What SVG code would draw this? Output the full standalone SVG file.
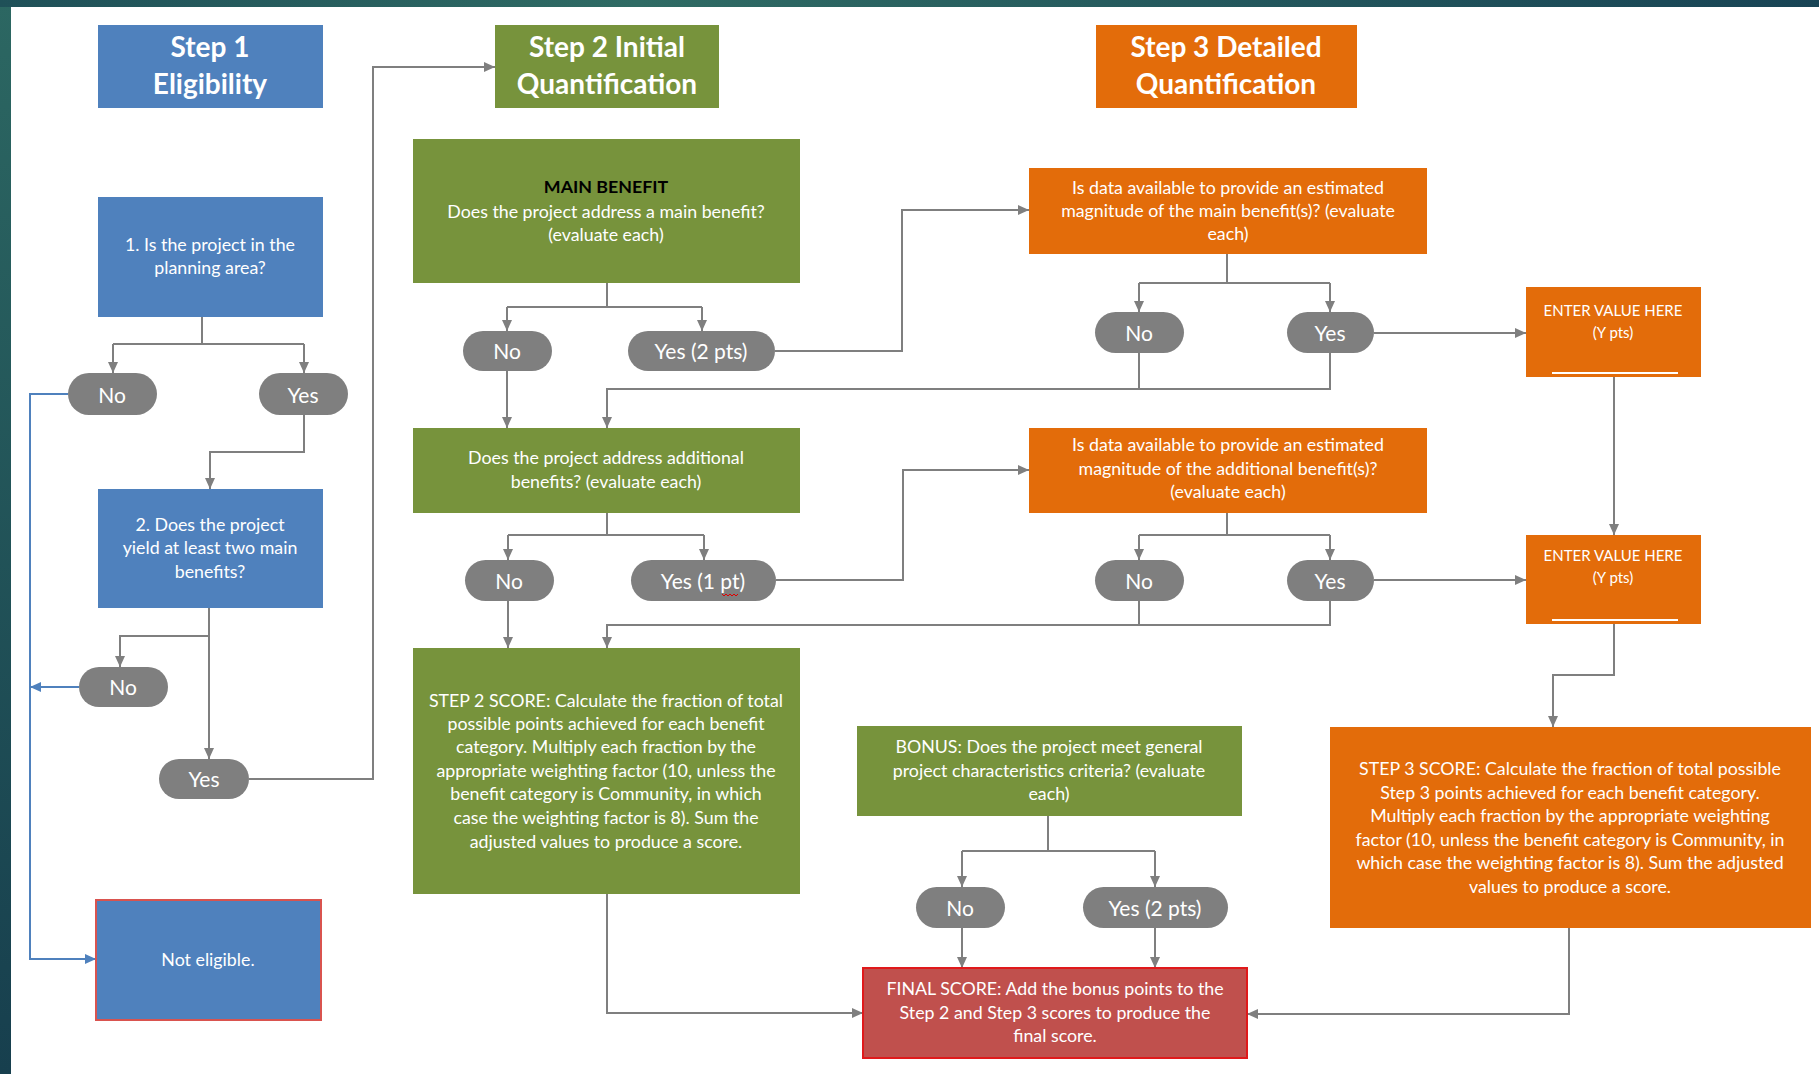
<svg xmlns="http://www.w3.org/2000/svg" width="1819" height="1074" viewBox="0 0 1819 1074">
<defs>
<linearGradient id="gTop" x1="0" y1="0" x2="1" y2="0">
<stop offset="0" stop-color="#1f5058"/><stop offset="0.35" stop-color="#2f6b64"/><stop offset="1" stop-color="#184455"/>
</linearGradient>
<linearGradient id="gLeft" x1="0" y1="0" x2="0" y2="1">
<stop offset="0" stop-color="#2c6762"/><stop offset="1" stop-color="#173f4e"/>
</linearGradient>
<marker id="ag" markerUnits="userSpaceOnUse" markerWidth="11" markerHeight="10" refX="11" refY="5" orient="auto">
<path d="M0,0 L11,5 L0,10 z" fill="#7f7f7f"/>
</marker>
<marker id="ab" markerUnits="userSpaceOnUse" markerWidth="11" markerHeight="10" refX="11" refY="5" orient="auto">
<path d="M0,0 L11,5 L0,10 z" fill="#4f81bd"/>
</marker>
</defs>
<style>
.blue{fill:#4f81bd}
.green{fill:#77933c}
.orange{fill:#e36c0a}
.pill{fill:#7f7f7f}
.t{font-family:Lato,"Liberation Sans",sans-serif;fill:#ffffff;text-anchor:middle}
.title{font-size:28px;font-weight:bold}
.body{font-size:17.8px}
.small{font-size:15px}
.pt{font-size:21px}
.c{fill:none;stroke:#7f7f7f;stroke-width:2}
.cb{fill:none;stroke:#4f81bd;stroke-width:2}
</style>
<rect x="0" y="0" width="1819" height="1074" fill="#ffffff"/>
<rect x="0" y="0" width="11" height="1074" fill="url(#gLeft)"/>
<rect x="0" y="0" width="1819" height="7" fill="url(#gTop)"/>

<g id="connectors">
<path class="c" d="M202,317 V344 M113,344 H304"/>
<path class="c" d="M113,344 V373" marker-end="url(#ag)"/>
<path class="c" d="M304,344 V373" marker-end="url(#ag)"/>
<path class="c" d="M304,415 V452 H210 V489" marker-end="url(#ag)"/>
<path class="c" d="M209,608 V759" marker-end="url(#ag)"/>
<path class="c" d="M209,636 H120 V667" marker-end="url(#ag)"/>
<path class="c" d="M249,779 H373 V67 H495" marker-end="url(#ag)"/>
<path class="cb" d="M68,394 H30 V959 H96" marker-end="url(#ab)"/>
<path class="cb" d="M79,687 H30" marker-end="url(#ab)"/>

<path class="c" d="M607,283 V307 M507,307 H702"/>
<path class="c" d="M507,307 V331" marker-end="url(#ag)"/>
<path class="c" d="M702,307 V331" marker-end="url(#ag)"/>
<path class="c" d="M507,371 V428" marker-end="url(#ag)"/>
<path class="c" d="M775,351 H902 V210 H1029" marker-end="url(#ag)"/>
<path class="c" d="M1227,254 V283 M1139,283 H1330"/>
<path class="c" d="M1139,283 V312" marker-end="url(#ag)"/>
<path class="c" d="M1330,283 V312" marker-end="url(#ag)"/>
<path class="c" d="M1374,333 H1526" marker-end="url(#ag)"/>
<path class="c" d="M1139,353 V389 M1330,353 V389 H607 V428" marker-end="url(#ag)"/>
<path class="c" d="M1614,377 V535" marker-end="url(#ag)"/>

<path class="c" d="M607,513 V535 M508,535 H704"/>
<path class="c" d="M508,535 V560" marker-end="url(#ag)"/>
<path class="c" d="M704,535 V560" marker-end="url(#ag)"/>
<path class="c" d="M508,601 V648" marker-end="url(#ag)"/>
<path class="c" d="M776,580 H903 V470 H1029" marker-end="url(#ag)"/>
<path class="c" d="M1227,513 V535 M1139,535 H1330"/>
<path class="c" d="M1139,535 V560" marker-end="url(#ag)"/>
<path class="c" d="M1330,535 V560" marker-end="url(#ag)"/>
<path class="c" d="M1374,580 H1526" marker-end="url(#ag)"/>
<path class="c" d="M1139,601 V625 M1330,601 V625 H607 V648" marker-end="url(#ag)"/>
<path class="c" d="M1614,624 V675 H1553 V727" marker-end="url(#ag)"/>

<path class="c" d="M607,894 V1013 H863" marker-end="url(#ag)"/>
<path class="c" d="M1569,928 V1014 H1247" marker-end="url(#ag)"/>
<path class="c" d="M1048,816 V851 M962,851 H1155"/>
<path class="c" d="M962,851 V887" marker-end="url(#ag)"/>
<path class="c" d="M1155,851 V887" marker-end="url(#ag)"/>
<path class="c" d="M962,928 V968" marker-end="url(#ag)"/>
<path class="c" d="M1155,928 V968" marker-end="url(#ag)"/>
</g>

<g id="step1-title"><rect class="blue" x="98" y="25" width="225" height="83"/>
<text class="t title" x="210" y="57">Step 1</text><text class="t title" x="210" y="94">Eligibility</text></g>
<g id="step2-title"><rect class="green" x="495" y="25" width="224" height="83"/>
<text class="t title" x="607" y="57">Step 2 Initial</text><text class="t title" x="607" y="94">Quantification</text></g>
<g id="step3-title"><rect class="orange" x="1096" y="25" width="261" height="83"/>
<text class="t title" x="1226" y="57">Step 3 Detailed</text><text class="t title" x="1226" y="94">Quantification</text></g>

<g id="q1"><rect class="blue" x="98" y="197" width="225" height="120"/>
<text class="t body" x="210" y="251">1. Is the project in the</text><text class="t body" x="210" y="274">planning area?</text></g>
<g id="q1-no"><rect class="pill" x="68" y="373" width="89" height="42" rx="21"/><text class="t pt" x="112" y="403">No</text></g>
<g id="q1-yes"><rect class="pill" x="259" y="373" width="89" height="42" rx="21"/><text class="t pt" x="303" y="403">Yes</text></g>
<g id="q2"><rect class="blue" x="98" y="489" width="225" height="119"/>
<text class="t body" x="210" y="531">2. Does the project</text><text class="t body" x="210" y="554">yield at least two main</text><text class="t body" x="210" y="578">benefits?</text></g>
<g id="q2-no"><rect class="pill" x="79" y="667" width="89" height="40" rx="20"/><text class="t pt" x="123" y="695">No</text></g>
<g id="q2-yes"><rect class="pill" x="159" y="759" width="90" height="40" rx="20"/><text class="t pt" x="204" y="787">Yes</text></g>
<g id="not-eligible"><rect class="blue" x="96" y="900" width="225" height="120" stroke="#d9534f" stroke-width="2"/>
<text class="t body" x="208" y="966">Not eligible.</text></g>

<g id="main-benefit"><rect class="green" x="413" y="139" width="387" height="144"/>
<text class="t body" x="606" y="193" style="fill:#000000;font-weight:bold">MAIN BENEFIT</text>
<text class="t body" x="606" y="218">Does the project address a main benefit?</text>
<text class="t body" x="606" y="241">(evaluate each)</text></g>
<g id="mb-no"><rect class="pill" x="463" y="331" width="89" height="40" rx="20"/><text class="t pt" x="507" y="359">No</text></g>
<g id="mb-yes"><rect class="pill" x="628" y="331" width="147" height="40" rx="20"/><text class="t pt" x="701" y="359">Yes (2 pts)</text></g>
<g id="additional"><rect class="green" x="413" y="428" width="387" height="85"/>
<text class="t body" x="606" y="464">Does the project address additional</text>
<text class="t body" x="606" y="488">benefits? (evaluate each)</text></g>
<g id="ad-no"><rect class="pill" x="465" y="560" width="89" height="41" rx="20.5"/><text class="t pt" x="509" y="589">No</text></g>
<g id="ad-yes"><rect class="pill" x="631" y="560" width="145" height="41" rx="20.5"/><text class="t pt" x="703" y="589">Yes (1 pt)</text>
<path d="M722,594 l2,2 l2,-2 l2,2 l2,-2 l2,2 l2,-2 l2,2 l2,-2" fill="none" stroke="#e00000" stroke-width="1"/></g>
<g id="step2-score"><rect class="green" x="413" y="648" width="387" height="246"/>
<text class="t body" x="606" y="707">STEP 2 SCORE: Calculate the fraction of total</text>
<text class="t body" x="606" y="730">possible points achieved for each benefit</text>
<text class="t body" x="606" y="753">category. Multiply each fraction by the</text>
<text class="t body" x="606" y="777">appropriate weighting factor (10, unless the</text>
<text class="t body" x="606" y="800">benefit category is Community, in which</text>
<text class="t body" x="606" y="824">case the weighting factor is 8). Sum the</text>
<text class="t body" x="606" y="848">adjusted values to produce a score.</text></g>

<g id="data-main"><rect class="orange" x="1029" y="168" width="398" height="86"/>
<text class="t body" x="1228" y="194">Is data available to provide an estimated</text>
<text class="t body" x="1228" y="217">magnitude of the main benefit(s)? (evaluate</text>
<text class="t body" x="1228" y="240">each)</text></g>
<g id="dm-no"><rect class="pill" x="1095" y="312" width="89" height="41" rx="20.5"/><text class="t pt" x="1139" y="341">No</text></g>
<g id="dm-yes"><rect class="pill" x="1287" y="312" width="87" height="41" rx="20.5"/><text class="t pt" x="1330" y="341">Yes</text></g>
<g id="enter1"><rect class="orange" x="1526" y="287" width="175" height="90"/>
<text class="t small" x="1613" y="316">ENTER VALUE HERE</text><text class="t small" x="1613" y="338">(Y pts)</text>
<line x1="1552" y1="373" x2="1678" y2="373" stroke="#ffffff" stroke-width="2"/></g>
<g id="data-add"><rect class="orange" x="1029" y="428" width="398" height="85"/>
<text class="t body" x="1228" y="451">Is data available to provide an estimated</text>
<text class="t body" x="1228" y="475">magnitude of the additional benefit(s)?</text>
<text class="t body" x="1228" y="498">(evaluate each)</text></g>
<g id="da-no"><rect class="pill" x="1095" y="560" width="89" height="41" rx="20.5"/><text class="t pt" x="1139" y="589">No</text></g>
<g id="da-yes"><rect class="pill" x="1287" y="560" width="87" height="41" rx="20.5"/><text class="t pt" x="1330" y="589">Yes</text></g>
<g id="enter2"><rect class="orange" x="1526" y="535" width="175" height="89"/>
<text class="t small" x="1613" y="561">ENTER VALUE HERE</text><text class="t small" x="1613" y="583">(Y pts)</text>
<line x1="1552" y1="620" x2="1678" y2="620" stroke="#ffffff" stroke-width="2"/></g>
<g id="step3-score"><rect class="orange" x="1330" y="727" width="481" height="201"/>
<text class="t body" x="1570" y="775">STEP 3 SCORE: Calculate the fraction of total possible</text>
<text class="t body" x="1570" y="799">Step 3 points achieved for each benefit category.</text>
<text class="t body" x="1570" y="822">Multiply each fraction by the appropriate weighting</text>
<text class="t body" x="1570" y="846">factor (10, unless the benefit category is Community, in</text>
<text class="t body" x="1570" y="869">which case the weighting factor is 8). Sum the adjusted</text>
<text class="t body" x="1570" y="893">values to produce a score.</text></g>

<g id="bonus"><rect class="green" x="857" y="726" width="385" height="90"/>
<text class="t body" x="1049" y="753">BONUS: Does the project meet general</text>
<text class="t body" x="1049" y="777">project characteristics criteria? (evaluate</text>
<text class="t body" x="1049" y="800">each)</text></g>
<g id="bonus-no"><rect class="pill" x="916" y="887" width="89" height="41" rx="20.5"/><text class="t pt" x="960" y="916">No</text></g>
<g id="bonus-yes"><rect class="pill" x="1083" y="887" width="145" height="41" rx="20.5"/><text class="t pt" x="1155" y="916">Yes (2 pts)</text></g>
<g id="final"><rect x="863" y="968" width="384" height="90" fill="#c0504d" stroke="#e0191b" stroke-width="2"/>
<text class="t body" x="1055" y="995">FINAL SCORE: Add the bonus points to the</text>
<text class="t body" x="1055" y="1019">Step 2 and Step 3 scores to produce the</text>
<text class="t body" x="1055" y="1042">final score.</text></g>
</svg>
